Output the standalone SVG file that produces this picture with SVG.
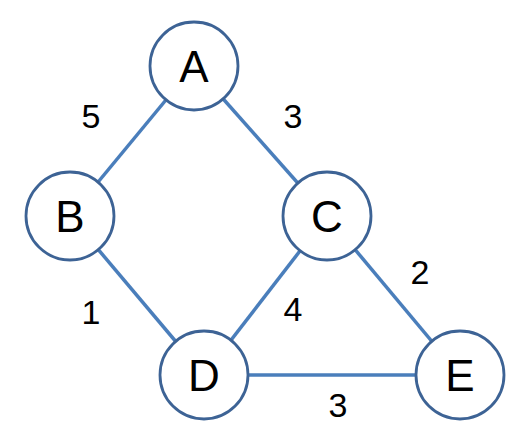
<svg xmlns="http://www.w3.org/2000/svg" width="531" height="439" viewBox="0 0 531 439">
<style>
.edge{stroke:#4a7ebb;stroke-width:3.5;fill:none}
.node circle{fill:#fff;stroke:#3d6395;stroke-width:2.8}
.node text{font-family:"Liberation Sans",Arial,sans-serif;font-size:44px;fill:#000;text-anchor:middle}
.w{font-family:"Liberation Sans",Arial,sans-serif;font-size:34px;fill:#000;text-anchor:middle}
</style>
<rect width="531" height="439" fill="#fff"/>
<g id="edges">
<line class="edge" x1="194" y1="66" x2="70" y2="216"/>
<line class="edge" x1="194" y1="66" x2="327" y2="216"/>
<line class="edge" x1="70" y1="216" x2="204" y2="375"/>
<line class="edge" x1="327" y1="216" x2="204" y2="375"/>
<line class="edge" x1="327" y1="216" x2="460" y2="375"/>
<line class="edge" x1="204" y1="375" x2="460" y2="375"/>
</g>
<g id="weights">
<text class="w" x="91" y="128">5</text>
<text class="w" x="293" y="128">3</text>
<text class="w" x="91" y="324">1</text>
<text class="w" x="293" y="321">4</text>
<text class="w" x="420" y="284">2</text>
<text class="w" x="338" y="417">3</text>
</g>
<g id="A" class="node"><circle cx="194" cy="66" r="44"/><text x="194" y="82">A</text></g>
<g id="B" class="node"><circle cx="70" cy="216" r="44"/><text x="70" y="232">B</text></g>
<g id="C" class="node"><circle cx="327" cy="216" r="44"/><text x="327" y="232">C</text></g>
<g id="D" class="node"><circle cx="204" cy="375" r="44"/><text x="204" y="391">D</text></g>
<g id="E" class="node"><circle cx="460" cy="375" r="44"/><text x="460" y="391">E</text></g>
</svg>
